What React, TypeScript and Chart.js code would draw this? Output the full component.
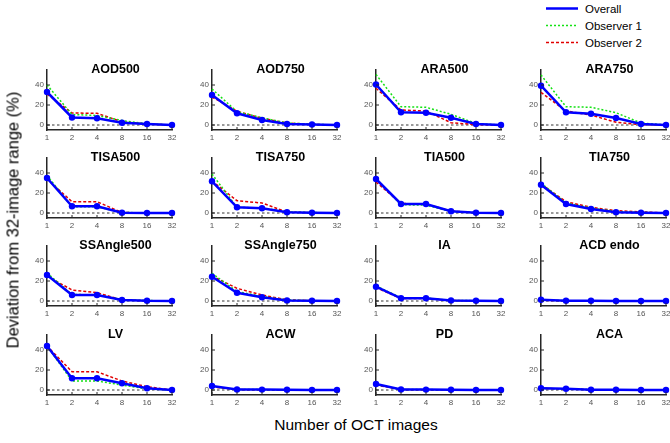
import React, { useEffect, useRef } from "react";
import { Chart, registerables } from "chart.js";

Chart.register(...registerables);

const FONT = "'Liberation Sans', Arial, Helvetica, sans-serif";

const xLabels = ["1", "2", "4", "8", "16", "32"];
const yTickValues = [0, 20, 40];
const yMin = -5;
const yMax = 55;

const panelTitles = [
  "AOD500", "AOD750", "ARA500", "ARA750",
  "TISA500", "TISA750", "TIA500", "TIA750",
  "SSAngle500", "SSAngle750", "IA", "ACD endo",
  "LV", "ACW", "PD", "ACA",
];

const overall = [
  [33, 7.5, 6.7, 2.3, 1, 0],
  [30, 11.7, 5, 1, 0.5, 0],
  [40.5, 12.7, 12.3, 7.3, 1, 0],
  [39.3, 12.7, 11.3, 7, 1, 0],
  [35, 6.7, 6.7, 0.3, 0, 0],
  [31.7, 5.7, 4.7, 0.7, 0.2, 0],
  [34, 9, 9, 1.7, 0.2, 0],
  [28.3, 9, 4, 0.7, 0.3, 0],
  [26, 6, 6, 1, 0.2, 0],
  [24.3, 8.3, 3.7, 0.5, 0.3, 0],
  [14.3, 2.7, 2.7, 0.5, 0.2, 0],
  [1.2, 0.3, 0.2, 0.1, 0, 0],
  [44, 11.7, 11.7, 6.7, 1.7, 0],
  [4, 0.5, 0.4, 0.2, 0.1, 0],
  [6, 0.5, 0.4, 0.3, 0.1, 0],
  [1.7, 1.3, 0.3, 0.2, 0.1, 0],
];

const observer1 = [
  [40, 10.5, 9.5, 4.5, 1.2, 0],
  [36, 13.3, 7.3, 2, 0.8, 0],
  [50.5, 18.3, 17.7, 10.7, 1.5, 0],
  [50, 18.3, 17.7, 12.3, 2, 0],
  [37.5, 6.2, 6.2, 0.5, 0.2, 0],
  [39, 5.5, 5.2, 1, 0.5, 0],
  [34.5, 8.2, 8, 1.5, 0.3, 0],
  [30, 10, 5, 1.5, 0.6, 0],
  [28, 6.5, 6.2, 1.5, 0.5, 0],
  [27.7, 9.5, 4.5, 1, 0.4, 0],
  [15, 3.3, 3, 0.6, 0.3, 0],
  [1, 0.3, 0.2, 0.1, 0, 0],
  [44, 9, 9, 5, 1, 0],
  [3.5, 0.5, 0.4, 0.2, 0.1, 0],
  [5.5, 0.5, 0.4, 0.3, 0.1, 0],
  [1.5, 1.2, 0.3, 0.2, 0.1, 0],
];

const observer2 = [
  [31, 12, 11.7, 3.3, 1, 0],
  [28, 13.8, 6.7, 2, 0.6, 0],
  [36.7, 15, 14, 2.3, 0.3, 0],
  [32.7, 14, 10, 2.7, 0.3, 0],
  [34, 11.3, 11.3, 0.5, 0.1, 0],
  [32, 12.3, 10, 1, 0.3, 0],
  [31, 9.5, 9, 2, 0.3, 0],
  [29, 11.3, 5.7, 2.3, 1.2, 0],
  [25, 11, 8.3, 1, 0.3, 0],
  [25, 12.7, 6, 1.2, 0.4, 0],
  [13.5, 2.5, 2.5, 0.5, 0.2, 0],
  [0.8, 0.2, 0.2, 0.1, 0, 0],
  [44, 18.3, 18.3, 9, 3.3, 0],
  [3, 0.4, 0.3, 0.2, 0.1, 0],
  [5, 0.4, 0.3, 0.2, 0.1, 0],
  [1.5, 1.2, 0.3, 0.2, 0.1, 0],
];

const seriesNames = ["Overall", "Observer 1", "Observer 2"];
const BLUE = "rgb(0,0,255)";
const GREEN = "rgb(20,225,20)";
const RED = "rgb(225,0,0)";
const AXIS = "#262626";

const colLeft = [47, 212, 376, 541];
const rowTop = [70, 158, 246, 335];
const PLOT_W = 125;
const PLOT_H = 60;
const PAD_L = 30;
const PAD_T = 12;
const PAD_R = 8;
const PAD_B = 16;

const decorPlugin = {
  id: "panelDecor",
  beforeDatasetsDraw(chart: any) {
    const { ctx, chartArea, scales } = chart;
    const y0 = scales.y.getPixelForValue(0);
    ctx.save();
    ctx.setLineDash([2.5, 2.5]);
    ctx.strokeStyle = "#000";
    ctx.lineWidth = 0.8;
    ctx.beginPath();
    ctx.moveTo(chartArea.left, y0);
    ctx.lineTo(chartArea.right, y0);
    ctx.stroke();
    ctx.restore();
  },
  afterDraw(chart: any, _args: any, opts: any) {
    const { ctx, chartArea, scales } = chart;
    ctx.save();
    ctx.strokeStyle = AXIS;
    ctx.lineWidth = 1;
    xLabels.forEach((_l, i) => {
      const x = scales.x.getPixelForValue(i);
      ctx.beginPath();
      ctx.moveTo(x, chartArea.bottom);
      ctx.lineTo(x, chartArea.bottom - 3);
      ctx.stroke();
    });
    yTickValues.forEach((v) => {
      const y = scales.y.getPixelForValue(v);
      ctx.beginPath();
      ctx.moveTo(chartArea.left, y);
      ctx.lineTo(chartArea.left + 3, y);
      ctx.stroke();
    });
    ctx.font = `bold 12.5px ${FONT}`;
    ctx.fillStyle = "#000";
    ctx.textAlign = "center";
    ctx.textBaseline = "middle";
    ctx.fillText(opts.title, (chartArea.left + chartArea.right) / 2 + 6, chartArea.top - 0.5);
    ctx.restore();
  },
};

function Panel({ index }: { index: number }) {
  const ref = useRef<HTMLCanvasElement>(null);
  const r = Math.floor(index / 4);
  const c = index % 4;
  const left = colLeft[c] - PAD_L;
  const top = rowTop[r] - PAD_T;
  const w = PAD_L + PLOT_W + PAD_R;
  const h = PAD_T + PLOT_H + PAD_B;

  useEffect(() => {
    if (!ref.current) return;
    const chart = new Chart(ref.current, {
      type: "line",
      data: {
        labels: xLabels,
        datasets: [
          {
            label: seriesNames[0],
            data: overall[index],
            borderColor: BLUE,
            backgroundColor: BLUE,
            borderWidth: 2.5,
            pointRadius: 3.2,
            pointBackgroundColor: BLUE,
            pointBorderWidth: 0,
            tension: 0,
            clip: false,
          },
          {
            label: seriesNames[1],
            data: observer1[index],
            borderColor: GREEN,
            borderWidth: 1.5,
            borderDash: [2, 2],
            pointRadius: 0,
            tension: 0,
            clip: false,
          },
          {
            label: seriesNames[2],
            data: observer2[index],
            borderColor: RED,
            borderWidth: 1.5,
            borderDash: [3, 2],
            pointRadius: 0,
            tension: 0,
            clip: false,
          },
        ],
      },
      options: {
        animation: false,
        responsive: false,
        devicePixelRatio: 1,
        layout: { padding: { left: 0, top: PAD_T, right: PAD_R, bottom: 0 } },
        plugins: {
          legend: { display: false },
          tooltip: { enabled: false },
          title: { display: false },
          panelDecor: { title: panelTitles[index] },
        } as any,
        events: [],
        scales: {
          x: {
            type: "category",
            offset: false,
            grid: { display: false, drawTicks: false },
            border: { display: true, color: AXIS, width: 1.5 },
            ticks: {
              font: { family: FONT, size: 8 },
              color: "#555",
              padding: 3,
              maxRotation: 0,
              autoSkip: false,
            },
            afterFit: (s: any) => {
              s.height = PAD_B;
            },
          },
          y: {
            type: "linear",
            min: yMin,
            max: yMax,
            grid: { display: false, drawTicks: false },
            border: { display: true, color: AXIS, width: 1.5 },
            ticks: {
              font: { family: FONT, size: 8 },
              color: "#555",
              padding: 3,
            },
            afterBuildTicks: (s: any) => {
              s.ticks = yTickValues.map((v) => ({ value: v }));
            },
            afterFit: (s: any) => {
              s.width = PAD_L;
            },
          },
        },
      },
      plugins: [decorPlugin],
    });
    return () => chart.destroy();
  }, [index]);

  return (
    <canvas
      ref={ref}
      width={w}
      height={h}
      style={{ position: "absolute", left, top, width: w, height: h }}
    />
  );
}

function Legend() {
  const items = [
    { name: seriesNames[0], color: BLUE, width: 2.5, dash: "" },
    { name: seriesNames[1], color: GREEN, width: 1.5, dash: "2,2" },
    { name: seriesNames[2], color: RED, width: 1.5, dash: "3,2" },
  ];
  return (
    <div style={{ position: "absolute", left: 540, top: 0, width: 130, height: 52 }}>
      {items.map((it, i) => (
        <div key={it.name} style={{ position: "absolute", left: 0, top: i * 17, height: 17, display: "flex", alignItems: "center" }}>
          <svg width={42} height={17} style={{ display: "block" }}>
            <line x1={6} y1={8.5} x2={38} y2={8.5} stroke={it.color} strokeWidth={it.width} strokeDasharray={it.dash || undefined} />
          </svg>
          <span style={{ fontFamily: FONT, fontSize: 11.5, color: "#000", marginLeft: 3, whiteSpace: "nowrap" }}>{it.name}</span>
        </div>
      ))}
    </div>
  );
}

export default function App() {
  return (
    <div style={{ position: "absolute", left: 0, top: 0, width: 670, height: 443, background: "#fff", overflow: "hidden" }}>
      {panelTitles.map((_t, i) => (
        <Panel key={i} index={i} />
      ))}
      <Legend />
      <div
        style={{
          position: "absolute",
          left: 13,
          top: 220,
          transform: "translate(-50%, -50%) rotate(-90deg)",
          fontFamily: FONT,
          fontSize: 16.5,
          whiteSpace: "nowrap",
          color: "#000",
        }}
      >
        Deviation from 32-image range (%)
      </div>
      <div
        style={{
          position: "absolute",
          left: 356,
          top: 425,
          transform: "translate(-50%, -50%)",
          fontFamily: FONT,
          fontSize: 15.5,
          whiteSpace: "nowrap",
          color: "#000",
        }}
      >
        Number of OCT images
      </div>
    </div>
  );
}
